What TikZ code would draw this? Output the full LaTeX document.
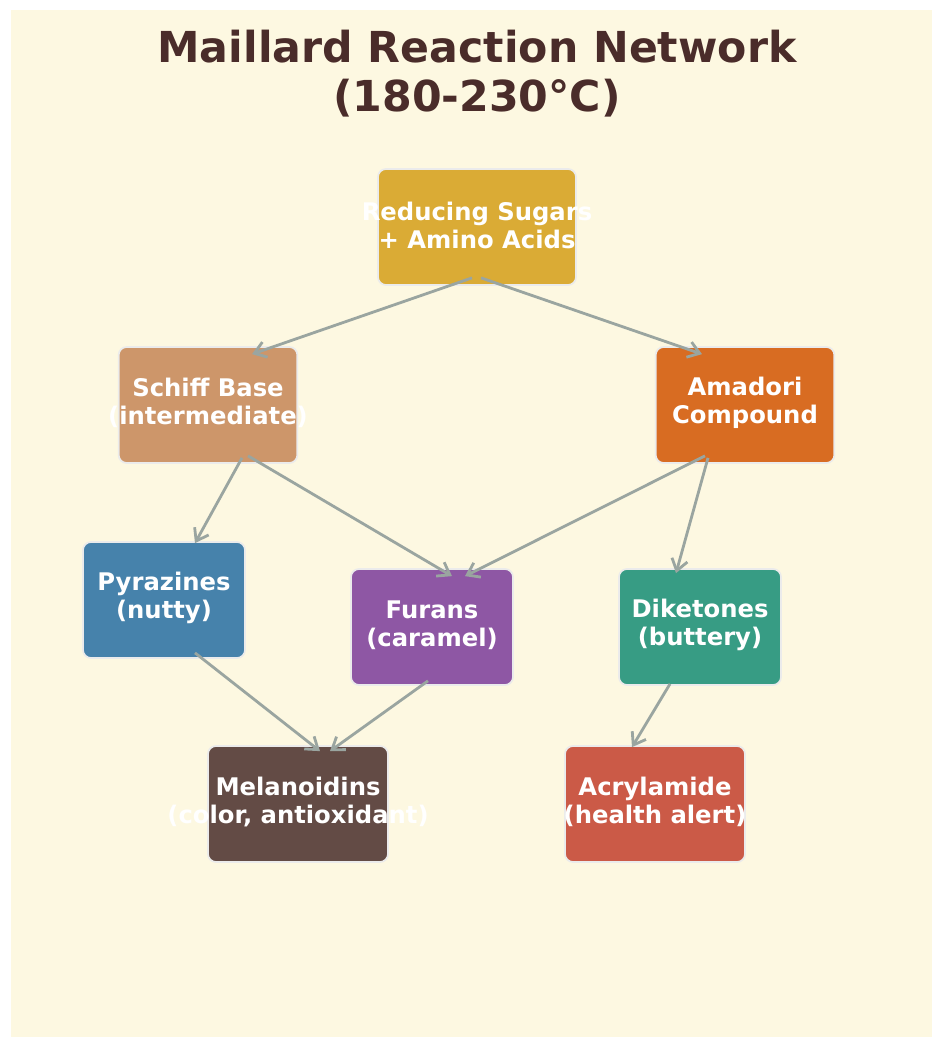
\documentclass[tikz,border=0pt]{standalone}
\usepackage{fontspec}
\setmainfont{DejaVu Sans}
\usetikzlibrary{arrows.meta,calc}
\definecolor{bgcream}{HTML}{FDF8E1}
\definecolor{titlec}{HTML}{4A2C2A}
\definecolor{arrowc}{HTML}{9AA5A0}
\definecolor{cSugar}{HTML}{DAAB35}
\definecolor{cSchiff}{HTML}{CD966A}
\definecolor{cAmadori}{HTML}{D86C22}
\definecolor{cPyr}{HTML}{4682AB}
\definecolor{cFur}{HTML}{8E57A4}
\definecolor{cDik}{HTML}{379C84}
\definecolor{cMel}{HTML}{634B45}
\definecolor{cAcr}{HTML}{CB5A47}
\begin{document}
\begin{tikzpicture}[x=0.75pt,y=-0.75pt,
  box/.style={draw=white!92!black,line width=1.3pt,rounded corners=6pt,
    minimum height=87pt,inner sep=0pt},
  boxtext/.style={text=white,align=center,inner sep=0pt,yshift=1.5pt,
    font=\fontsize{18.2}{21}\selectfont\bfseries},
  link/.style={draw=arrowc,line width=2.1pt,
    -{Straight Barb[length=8.5pt,width=12pt,line width=2.1pt]}},
  titletext/.style={text=titlec,align=center,
    font=\fontsize{32}{37}\selectfont\bfseries}]
\useasboundingbox (0,0) rectangle (932,1037);
\fill[white] (0,0) rectangle (932,1037);
\fill[bgcream] (11,10) rectangle (932,1037);
\node[titletext] (title) at (477,73.5) {Maillard Reaction Network\\(180-230°C)};
\node[box,fill=cSugar,minimum width=148.5pt,label={[boxtext]center:Reducing Sugars\\+ Amino Acids}] (sugar) at (477,227) {};
\node[box,fill=cSchiff,minimum width=134pt,label={[boxtext]center:Schiff Base\\(intermediate)}] (schiff) at (208,405) {};
\node[box,fill=cAmadori,minimum width=134pt,label={[boxtext]center:Amadori\\Compound}] (amadori) at (745,405) {};
\node[box,fill=cPyr,minimum width=121.5pt,label={[boxtext]center:Pyrazines\\(nutty)}] (pyr) at (164,600) {};
\node[box,fill=cFur,minimum width=121.5pt,label={[boxtext]center:Furans\\(caramel)}] (fur) at (432,627) {};
\node[box,fill=cDik,minimum width=121.5pt,label={[boxtext]center:Diketones\\(buttery)}] (dik) at (700,627) {};
\node[box,fill=cMel,minimum width=135pt,label={[boxtext]center:Melanoidins\\(color, antioxidant)}] (mel) at (298,804) {};
\node[box,fill=cAcr,minimum width=135pt,label={[boxtext]center:Acrylamide\\(health alert)}] (acr) at (655,804) {};
% connectors
\draw[link] ($(sugar.south)+(-5,-8)$) -- ($(schiff.north)+(44,8)$);
\draw[link] ($(sugar.south)+(4,-8)$) -- ($(amadori.north)+(-43,8)$);
\draw[link] ($(schiff.south)+(34,-6)$) -- ($(pyr.north)+(31,2)$);
\draw[link] ($(schiff.south)+(40,-8)$) -- ($(fur.north)+(20,8)$);
\draw[link] ($(amadori.south)+(-40,-8)$) -- ($(fur.north)+(33,8)$);
\draw[link] ($(amadori.south)+(-37,-6)$) -- ($(dik.north)+(-24,5)$);
\draw[link] ($(pyr.south)+(31,-6)$) -- ($(mel.north)+(22,6)$);
\draw[link] ($(fur.south)+(-4,-5)$) -- ($(mel.north)+(32,6)$);
\draw[link] ($(dik.south)+(-30,-2)$) -- ($(acr.north)+(-23,2)$);
\end{tikzpicture}
\end{document}
